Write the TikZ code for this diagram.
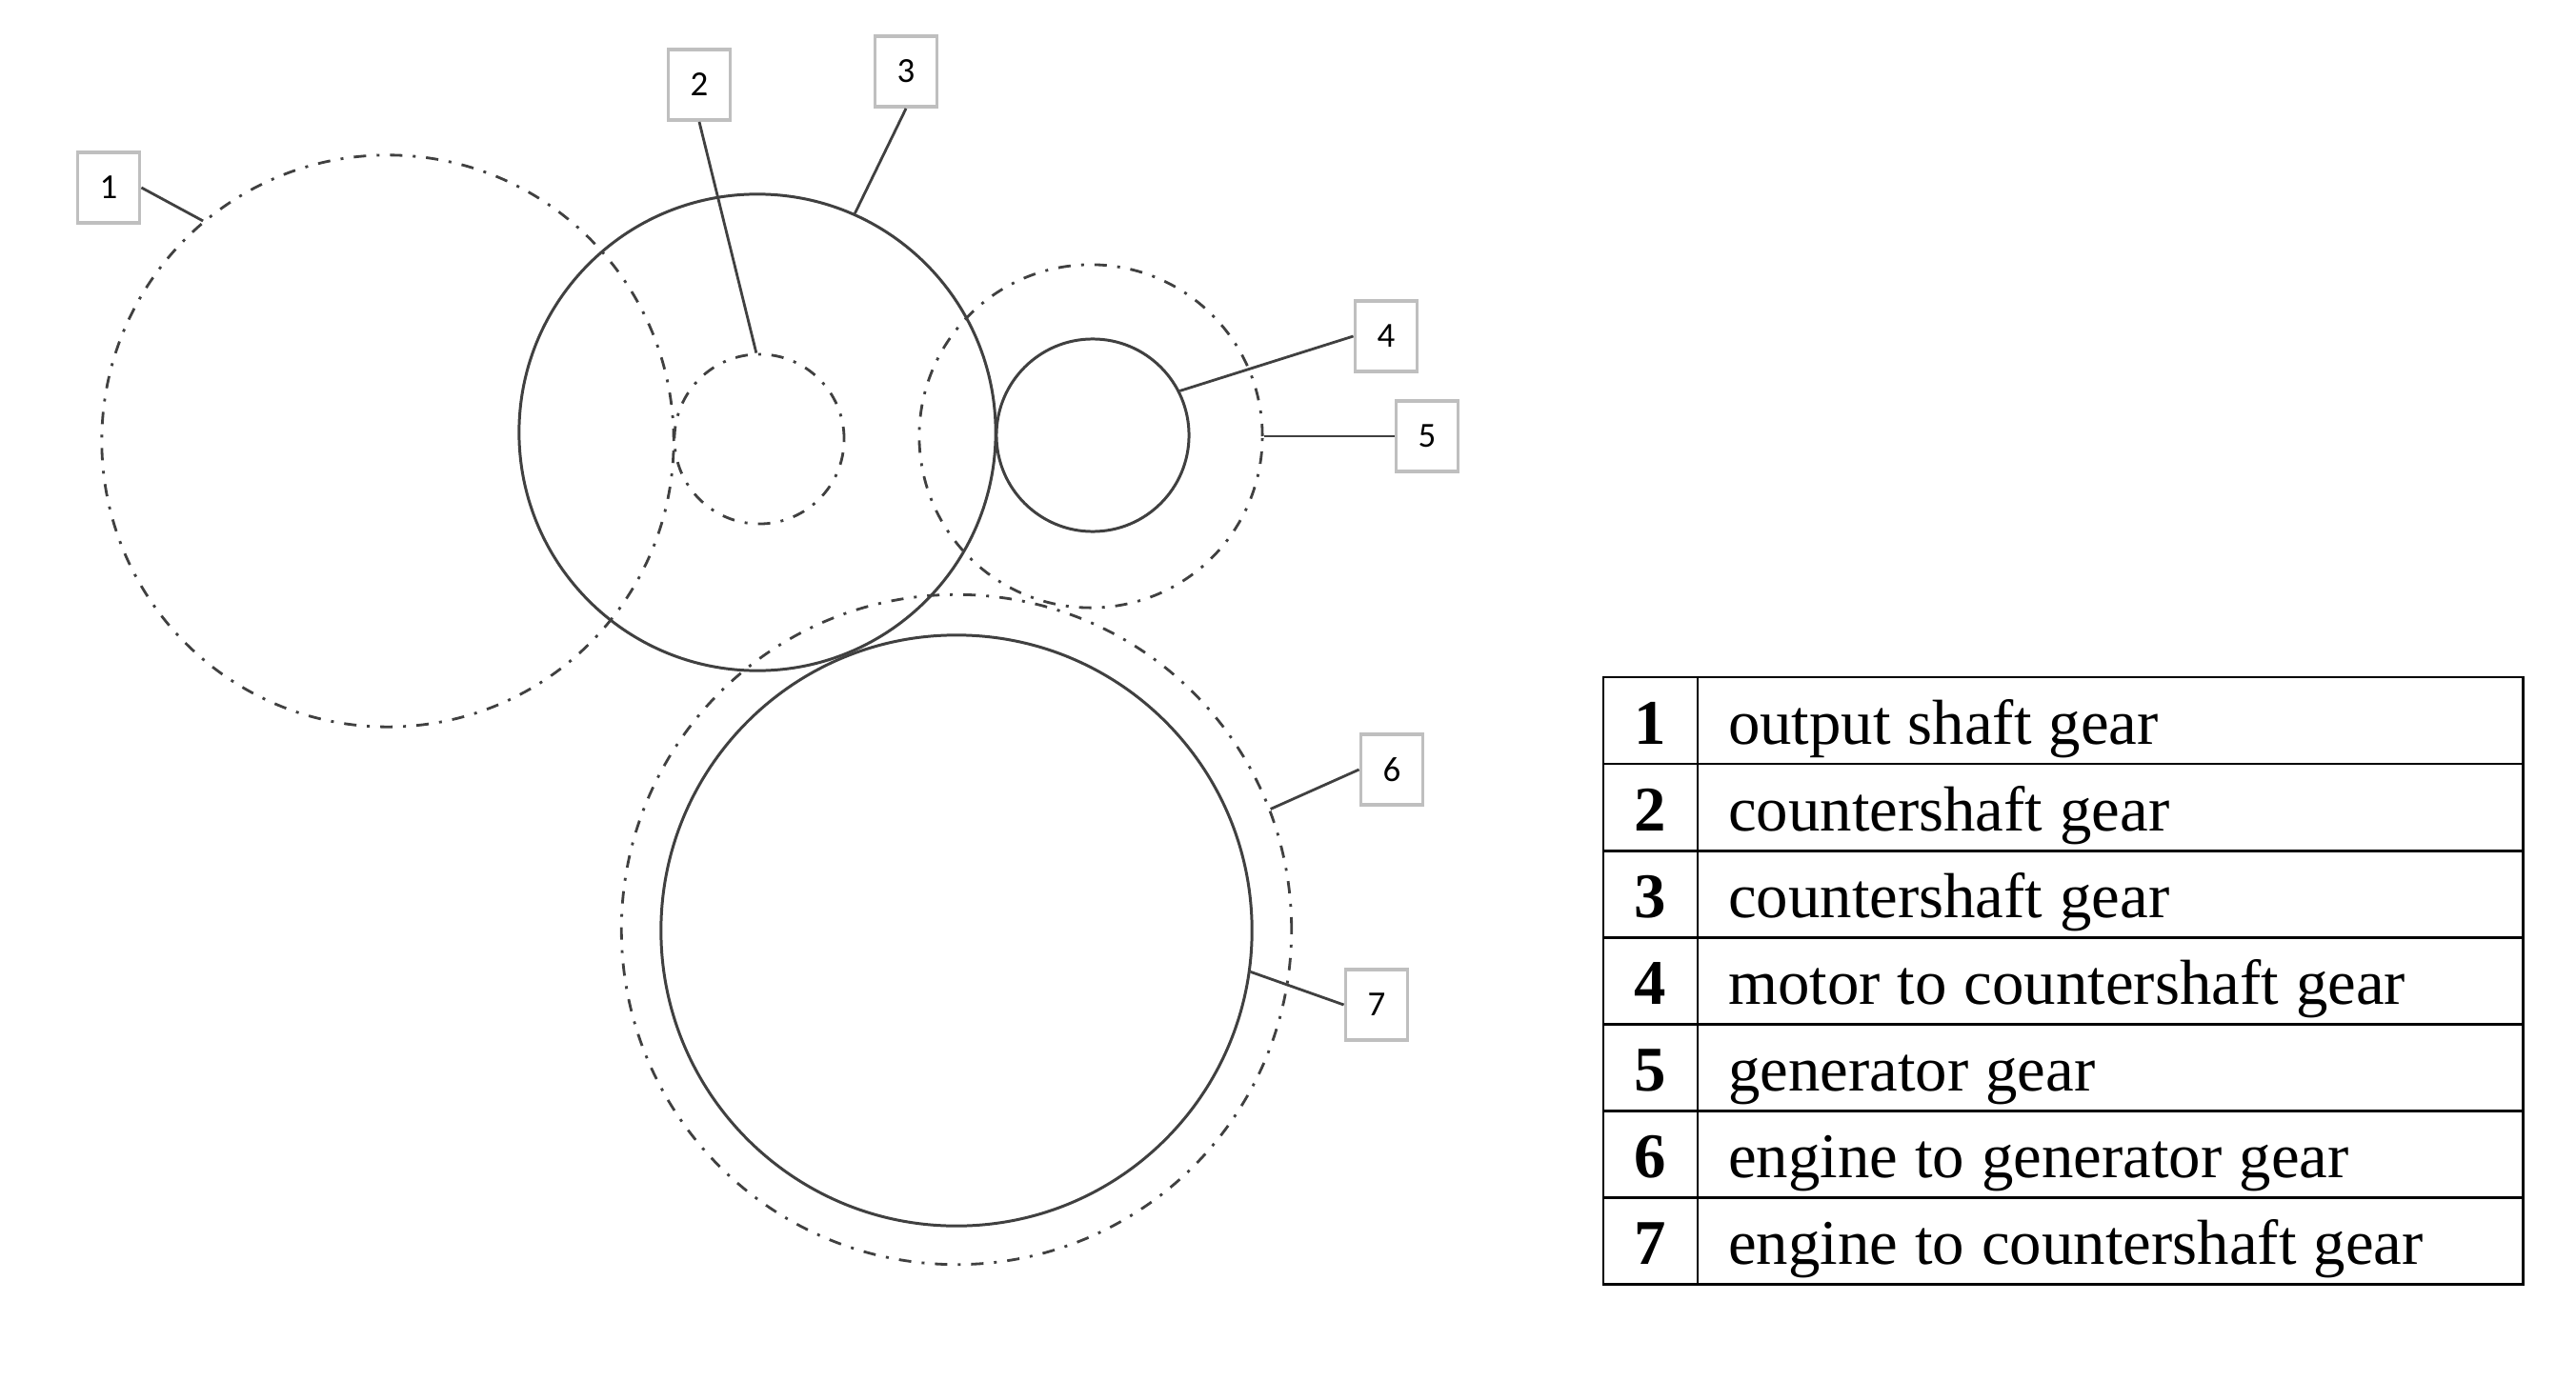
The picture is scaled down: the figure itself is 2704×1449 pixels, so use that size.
\documentclass[tikz,border=0pt]{standalone}
\usepackage{fontspec}
\setmainfont{Liberation Serif}
\newfontfamily\calloutfont{Carlito}
\usepackage{xcolor}
\usepackage{tikz}
\usetikzlibrary{positioning}
\definecolor{gearline}{HTML}{404040}
\definecolor{boxline}{HTML}{BFBFBF}
\tikzset{gearsolid/.style = {
            circle,draw=gearline,line width=0.85pt,
            inner sep=0pt,minimum size=#1
         },
         geardash/.style = {
            circle,draw=gearline,line width=0.8pt,inner sep=0pt,
            minimum size=#1,
            dash pattern=on 0.13cm off 0.11cm on 0.03cm off 0.11cm
         },
         callout/.style = {
            rectangle,draw=boxline,line width=1.1pt,fill=white,
            minimum width=0.65cm,minimum height=0.74cm,inner sep=0pt,
            font=\calloutfont\fontsize{10.5}{12}\selectfont
         },
         leader/.style = {draw=gearline,line width=0.8pt},
         keynum/.style = {
            rectangle,draw=black,line width=0.8pt,outer sep=0pt,
            minimum width=0.99cm,inner xsep=0pt,inner ysep=0pt,
            text height=0.7cm,text depth=0.21cm,
            font=\bfseries\fontsize{19}{23}\selectfont
         },
         keytext/.style = {
            rectangle,draw=black,line width=0.8pt,outer sep=0pt,
            text width=8.02cm,inner xsep=0.32cm,inner ysep=0pt,align=left,
            text height=0.7cm,text depth=0.21cm,
            font=\fontsize{19}{23}\selectfont,
            execute at begin node={\spaceskip=0.27em\relax}
         }
        }

\begin{document}
\begin{tikzpicture}[x=0.01cm,y=-0.01cm]
        \useasboundingbox (0,0) rectangle (2704,1449);

        % gears
        \node[geardash=6cm] (gearone) at (407,463) {};
        \node[gearsolid=5.0cm] (gearthree) at (795,454) {};
        \node[geardash=1.78cm] (geartwo) at (797,461) {};
        \node[geardash=3.6cm] (gearfive) at (1145,458) {};
        \node[gearsolid=2.02cm] (gearfour) at (1147,457) {};
        \node[geardash=7.03cm] (gearsix) at (1004,976) {};
        \node[gearsolid=6.2cm] (gearseven) at (1004,977) {};

        % callouts
        \node[callout] (callone) at (114,197) {1};
        \node[callout] (calltwo) at (734,89) {2};
        \node[callout] (callthree) at (951,75) {3};
        \node[callout] (callfour) at (1455,353) {4};
        \node[callout] (callfive) at (1498,458) {5};
        \node[callout] (callsix) at (1461,808) {6};
        \node[callout] (callseven) at (1445,1055) {7};

        \path[leader] (callone.east) -- (gearone.130);
        \path[leader] (calltwo.south) -- (geartwo.92);
        \path[leader] (callthree.south) -- (gearthree.66);
        \path[leader] (callfour.west) -- (gearfour.27);
        \path[leader] (callfive.west) -- (gearfive.east);
        \path[leader] (callsix.west) -- (gearsix.21);
        \path[leader] (callseven.west) -- (gearseven.-8);

        % key table
        \node[keynum,anchor=north west] (numone) at (1683,711) {1};
        \node[keytext,right=0pt of numone] (textone) {output shaft gear};
        \node[keynum,below=0pt of numone] (numtwo) {2};
        \node[keytext,right=0pt of numtwo] (texttwo) {countershaft gear};
        \node[keynum,below=0pt of numtwo] (numthree) {3};
        \node[keytext,right=0pt of numthree] (textthree) {countershaft gear};
        \node[keynum,below=0pt of numthree] (numfour) {4};
        \node[keytext,right=0pt of numfour] (textfour) {motor to countershaft gear};
        \node[keynum,below=0pt of numfour] (numfive) {5};
        \node[keytext,right=0pt of numfive] (textfive) {generator gear};
        \node[keynum,below=0pt of numfive] (numsix) {6};
        \node[keytext,right=0pt of numsix] (textsix) {engine to generator gear};
        \node[keynum,below=0pt of numsix] (numseven) {7};
        \node[keytext,right=0pt of numseven] (textseven) {engine to countershaft gear};
    \end{tikzpicture}
\end{document}
